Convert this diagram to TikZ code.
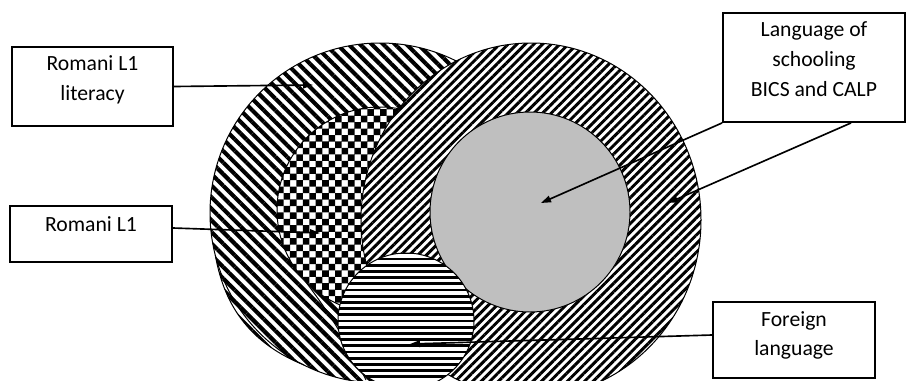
\documentclass[tikz,border=0pt]{standalone}
\usepackage{fontspec}
\setmainfont{Carlito}
\usetikzlibrary{arrows.meta,patterns,patterns.meta}
\definecolor{schoolgray}{RGB}{191,191,191}
\pgfdeclarepatternformonly{romanichecker}{\pgfqpoint{-0.1pt}{-0.1pt}}{\pgfqpoint{11.1pt}{11.1pt}}{\pgfqpoint{11pt}{11pt}}{%
  \pgfpathrectangle{\pgfqpoint{0pt}{0pt}}{\pgfqpoint{5.6pt}{5.6pt}}%
  \pgfpathrectangle{\pgfqpoint{5.5pt}{5.5pt}}{\pgfqpoint{5.6pt}{5.6pt}}%
  \pgfusepath{fill}%
}

\begin{document}
\begin{tikzpicture}[
  x=0.03cm, y=0.03cm,
  box/.style={draw, line width=1.6pt, fill=white, align=center, font=\fontsize{18.5}{25.5}\selectfont},
  arr/.style={-{Triangle[length=3mm,width=2mm]}, line width=1.4pt},
  ring/.style={draw, line width=0.85pt, preaction={fill=white}},
  litfill/.style={pattern={Lines[angle=-45,distance=7pt,line width=3.5pt]}},
  schoolfill/.style={pattern={Lines[angle=45,distance=5.2pt,line width=2.5pt]}}
]
\useasboundingbox (0,0) rectangle (908,380);
\clip (0,0) rectangle (908,380);

\path[ring, litfill] (380,167) circle (170);
\path[litfill] (215.3,125) to[bend right=29] (304,15) arc[start angle=243.4, end angle=194.3, radius=170];
\draw[line width=0.85pt] (215.3,125) to[bend right=29] (304,15);
\path[litfill] (287,122) to[bend left=6] (366,0) -- (420,0) -- (420,122) -- cycle;
\draw[line width=0.85pt] (287,122) to[bend left=6] (366,0);
\path[ring, pattern=romanichecker] (380,170) circle (103);
\path[ring, schoolfill] (531,160) ellipse [x radius=170, y radius=177];
\path[ring, fill=schoolgray] (530,168) circle (100);
\begin{scope}
  \clip (406,59) circle (68);
  \fill[white] (406,59) circle (68);
  \foreach \k in {0,...,22}
    \draw[line width=2.4pt] (330,{\k*6.2-3}) -- (480,{\k*6.2-3});
\end{scope}
\draw[line width=0.85pt] (406,59) circle (68);

\node[box, minimum width=4.83cm, minimum height=2.37cm, text depth=14pt] (lit) at (92.5,293.5) {Romani L1\\literacy};
\node[box, minimum width=4.86cm, minimum height=1.68cm, text height=18pt, text depth=23pt] (l1) at (91,146) {Romani L1};
\node[box, minimum width=5.46cm, minimum height=3.27cm, text depth=14pt] (lang) at (814,312.5) {Language of\\schooling\\BICS and CALP};
\node[box, minimum width=4.86cm, minimum height=2.28cm, text depth=11pt] (foreign) at (794,40) {Foreign\\language};

\coordinate (litTip) at (313,295);
\coordinate (l1Tip) at (320,147);
\coordinate (grayTip) at (541,177);
\coordinate (ringTip) at (668,177);
\coordinate (foreignTip) at (410,36);

\draw[arr] (lit.east) -- (litTip);
\draw[arr] ([yshift=0.18cm]l1.east) -- (l1Tip);
\draw[arr] (lang.south west) -- (grayTip);
\draw[arr] ([xshift=1.11cm]lang.south) -- (ringTip);
\draw[arr] ([yshift=0.15cm]foreign.west) -- (foreignTip);
\end{tikzpicture}
\end{document}
